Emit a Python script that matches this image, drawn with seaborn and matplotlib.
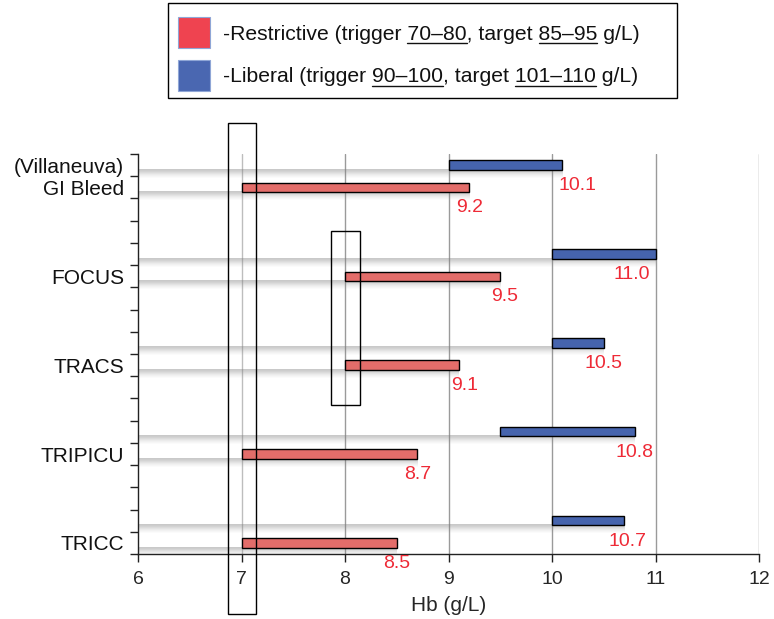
import numpy as np
import matplotlib
matplotlib.use("Agg")
import matplotlib.pyplot as plt
from matplotlib.patches import Rectangle
from matplotlib.lines import Line2D
from matplotlib.font_manager import FontProperties
import seaborn as sns

# ---- data ----
studies = ["TRICC", "TRIPICU", "TRACS", "FOCUS", "GI Bleed"]
restrictive_start = [7.0, 7.0, 8.0, 8.0, 7.0]
restrictive_end = [8.5, 8.7, 9.1, 9.5, 9.2]
liberal_start = [10.0, 9.5, 10.0, 10.0, 9.0]
liberal_end = [10.7, 10.8, 10.5, 11.0, 10.1]
restrictive_labels = ["8.5", "8.7", "9.1", "9.5", "9.2"]
liberal_labels = ["10.7", "10.8", "10.5", "11.0", "10.1"]
x_ticks = [6, 7, 8, 9, 10, 11, 12]
legend_lines = [
    ("-Restrictive (trigger 70\u201380, target 85\u201395 g/L)", ["70\u201380", "85\u201395"]),
    ("-Liberal (trigger 90\u2013100, target 101\u2013110 g/L)", ["90\u2013100", "101\u2013110"]),
]

# ---- style ----
sns.set_theme(style="white")
plt.rcParams["font.family"] = ["Liberation Sans", "DejaVu Sans"]

W, H = 774, 619
fig = plt.figure(figsize=(W / 100, H / 100), dpi=100)
ax = fig.add_axes([138 / W, 1 - 554 / H, (759 - 138) / W, (554 - 154) / H])

RED = "#e36d6a"
BLUE = "#4664ad"
LABEL_RED = "#ee2a36"
bar_h = 0.42

# label x-offsets (visual nudges)
rdx = [0.0, 0.0, 0.06, 0.04, 0.0]
ldx = [0.03, 0.0, 0.0, -0.23, 0.15]

def shadow(x_end, y_bottom):
    alpha = np.array([0.42, 0.38, 0.30, 0.22, 0.15, 0.09, 0.04, 0.0])
    img = np.zeros((len(alpha), 2, 4))
    img[..., :3] = 0.5
    img[..., 3] = alpha[:, None]
    ax.imshow(img, extent=[6, x_end, y_bottom - 0.40, y_bottom + 0.02], origin="upper",
              aspect="auto", interpolation="bilinear", zorder=1)

for i, s in enumerate(studies):
    yr = 4 * i + 0.5
    yl = 4 * i + 1.5
    shadow(restrictive_end[i], yr - bar_h / 2)
    shadow(liberal_end[i], yl - bar_h / 2)
    ax.barh(yr, restrictive_end[i] - restrictive_start[i], left=restrictive_start[i],
            height=bar_h, color=RED, edgecolor="black", linewidth=1.0, zorder=3)
    ax.barh(yl, liberal_end[i] - liberal_start[i], left=liberal_start[i],
            height=bar_h, color=BLUE, edgecolor="black", linewidth=1.0, zorder=3)
    ax.text(restrictive_end[i] + rdx[i], yr - 0.92, restrictive_labels[i], color=LABEL_RED,
            fontsize=14, ha="center", va="center", zorder=4)
    ax.text(liberal_end[i] + ldx[i], yl - 0.92, liberal_labels[i], color=LABEL_RED,
            fontsize=14, ha="center", va="center", zorder=4)

# gridlines
for xv in x_ticks[1:]:
    ax.axvline(xv, color="#bdbdbd" if xv == 7 else "#9a9a9a", lw=1.0, zorder=0.5)

ax.set_xlim(6, 12)
ax.set_ylim(0, 18)
ax.set_xticks(x_ticks)
ax.set_xticklabels([str(v) for v in x_ticks], fontsize=14)
ax.set_yticks(range(0, 19))
ax.set_yticklabels([])
ax.set_yticks([4 * i + 0.5 for i in range(len(studies))] + [17.5],
              studies + ["(Villaneuva)"], minor=True)
ax.tick_params(axis="y", which="minor", length=0, pad=10, labelsize=15, colors="#111111")
ax.tick_params(axis="y", which="major", direction="out", length=6, width=1, color="#222222", left=True)
ax.tick_params(axis="x", which="major", direction="out", length=6, width=1, color="#222222",
               bottom=True, pad=6)
ax.set_xlabel("Hb (g/L)", fontsize=15, labelpad=6)
sns.despine(ax=ax, top=True, right=True)
for sp in ["left", "bottom"]:
    ax.spines[sp].set_color("#222222")
    ax.spines[sp].set_linewidth(1.0)

# highlight boxes
ax.add_patch(Rectangle((6.87, -2.7), 0.27, 22.1, fill=False, ec="black", lw=1.0,
                       clip_on=False, zorder=5))
ax.add_patch(Rectangle((7.865, 6.7), 0.28, 7.84, fill=False, ec="black", lw=1.0,
                       clip_on=False, zorder=5))

# ---- manual legend ----
fig.patches.append(Rectangle((168 / W, 1 - 98 / H), (677 - 168) / W, 95 / H, fill=False,
                             ec="black", lw=1.0, transform=fig.transFigure, figure=fig))
for k, col in enumerate(["#ef4350", "#4a67b1"]):
    top = 17 + k * 43
    fig.patches.append(Rectangle((178 / W, 1 - (top + 31) / H), 32 / W, 31 / H, fc=col,
                                 ec="#8fa6d6", lw=0.8, transform=fig.transFigure, figure=fig))

renderer = fig.canvas.get_renderer()
fp = FontProperties(family=["Liberation Sans", "DejaVu Sans"], size=15.2)

def w(s):
    return renderer.get_text_width_height_descent(s, fp, ismath=False)[0]

for k, (line, subs) in enumerate(legend_lines):
    x0 = 223
    yb = 39.5 + k * 43  # baseline in px from top
    fig.text(x0 / W, 1 - yb / H, line, fontproperties=fp, ha="left", va="baseline", color="#111111")
    for sub in subs:
        idx = line.index(sub)
        end = x0 + w(line[: idx + len(sub)])
        start = end - w(sub)
        fig.lines.append(Line2D([start / W, end / W], [1 - (yb + 3) / H] * 2, color="#111111",
                                lw=1.0, transform=fig.transFigure, figure=fig))

fig.savefig("out.png", dpi=100)
